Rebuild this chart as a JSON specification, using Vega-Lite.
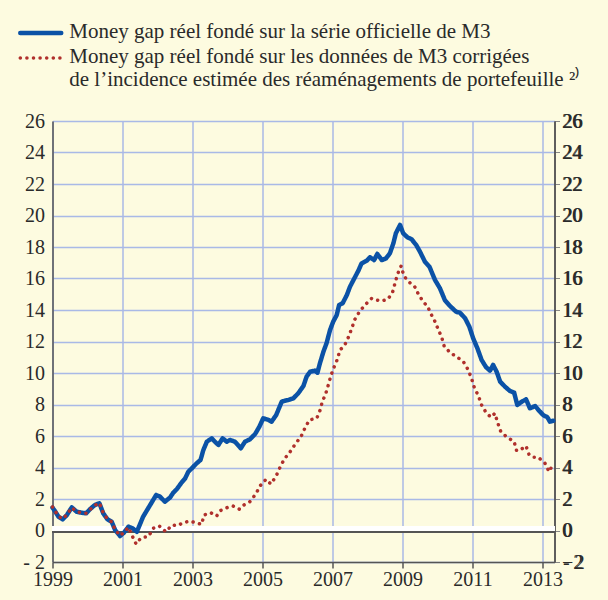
{
  "$schema": "https://vega.github.io/schema/vega-lite/v6.json",
  "autosize": {"type": "none"},
  "padding": {"left": 52.5, "top": 121, "right": 53.5, "bottom": 38},
  "width": 502,
  "height": 441,
  "background": "#fdfbe0",
  "config": {
    "font": "Liberation Serif",
    "view": {"stroke": null},
    "axis": {"labelFont": "Liberation Serif", "labelFontSize": 20, "labelColor": "#2a2a2a", "title": null, "domainColor": "#555", "domainWidth": 1.5, "gridColor": "#a9b9e6", "gridWidth": 1.5},
    "legend": {"labelFont": "Liberation Serif", "labelFontSize": 21, "labelColor": "#2a2a2a"}
  },
  "data": {"values": [
    {"t":1999.00,"v":1.45,"s":"officielle"},{"t":1999.08,"v":1.20,"s":"officielle"},{"t":1999.17,"v":0.88,"s":"officielle"},{"t":1999.29,"v":0.71,"s":"officielle"},{"t":1999.41,"v":0.98,"s":"officielle"},{"t":1999.55,"v":1.47,"s":"officielle"},{"t":1999.69,"v":1.19,"s":"officielle"},{"t":1999.83,"v":1.13,"s":"officielle"},{"t":1999.96,"v":1.09,"s":"officielle"},{"t":2000.07,"v":1.35,"s":"officielle"},{"t":2000.21,"v":1.62,"s":"officielle"},{"t":2000.34,"v":1.73,"s":"officielle"},{"t":2000.45,"v":1.09,"s":"officielle"},{"t":2000.57,"v":0.71,"s":"officielle"},{"t":2000.69,"v":0.56,"s":"officielle"},{"t":2000.79,"v":0.03,"s":"officielle"},{"t":2000.93,"v":-0.35,"s":"officielle"},{"t":2001.04,"v":-0.14,"s":"officielle"},{"t":2001.17,"v":0.24,"s":"officielle"},{"t":2001.29,"v":0.14,"s":"officielle"},{"t":2001.41,"v":-0.08,"s":"officielle"},{"t":2001.59,"v":0.88,"s":"officielle"},{"t":2001.79,"v":1.62,"s":"officielle"},{"t":2001.96,"v":2.25,"s":"officielle"},{"t":2002.07,"v":2.15,"s":"officielle"},{"t":2002.21,"v":1.83,"s":"officielle"},{"t":2002.36,"v":2.10,"s":"officielle"},{"t":2002.45,"v":2.40,"s":"officielle"},{"t":2002.55,"v":2.62,"s":"officielle"},{"t":2002.69,"v":3.05,"s":"officielle"},{"t":2002.79,"v":3.31,"s":"officielle"},{"t":2002.88,"v":3.73,"s":"officielle"},{"t":2002.98,"v":3.95,"s":"officielle"},{"t":2003.12,"v":4.27,"s":"officielle"},{"t":2003.23,"v":4.48,"s":"officielle"},{"t":2003.31,"v":5.11,"s":"officielle"},{"t":2003.41,"v":5.64,"s":"officielle"},{"t":2003.55,"v":5.85,"s":"officielle"},{"t":2003.64,"v":5.64,"s":"officielle"},{"t":2003.74,"v":5.43,"s":"officielle"},{"t":2003.86,"v":5.85,"s":"officielle"},{"t":2003.98,"v":5.64,"s":"officielle"},{"t":2004.07,"v":5.75,"s":"officielle"},{"t":2004.21,"v":5.64,"s":"officielle"},{"t":2004.38,"v":5.22,"s":"officielle"},{"t":2004.50,"v":5.64,"s":"officielle"},{"t":2004.64,"v":5.79,"s":"officielle"},{"t":2004.79,"v":6.13,"s":"officielle"},{"t":2004.91,"v":6.59,"s":"officielle"},{"t":2005.02,"v":7.12,"s":"officielle"},{"t":2005.17,"v":7.02,"s":"officielle"},{"t":2005.26,"v":6.91,"s":"officielle"},{"t":2005.39,"v":7.33,"s":"officielle"},{"t":2005.55,"v":8.18,"s":"officielle"},{"t":2005.74,"v":8.29,"s":"officielle"},{"t":2005.88,"v":8.39,"s":"officielle"},{"t":2006.02,"v":8.71,"s":"officielle"},{"t":2006.17,"v":9.18,"s":"officielle"},{"t":2006.26,"v":9.77,"s":"officielle"},{"t":2006.36,"v":10.08,"s":"officielle"},{"t":2006.50,"v":10.15,"s":"officielle"},{"t":2006.57,"v":10.02,"s":"officielle"},{"t":2006.64,"v":10.61,"s":"officielle"},{"t":2006.74,"v":11.35,"s":"officielle"},{"t":2006.83,"v":11.89,"s":"officielle"},{"t":2006.93,"v":12.73,"s":"officielle"},{"t":2007.02,"v":13.26,"s":"officielle"},{"t":2007.12,"v":13.68,"s":"officielle"},{"t":2007.19,"v":14.32,"s":"officielle"},{"t":2007.29,"v":14.43,"s":"officielle"},{"t":2007.41,"v":14.95,"s":"officielle"},{"t":2007.50,"v":15.48,"s":"officielle"},{"t":2007.61,"v":15.95,"s":"officielle"},{"t":2007.74,"v":16.50,"s":"officielle"},{"t":2007.83,"v":16.96,"s":"officielle"},{"t":2007.98,"v":17.13,"s":"officielle"},{"t":2008.07,"v":17.35,"s":"officielle"},{"t":2008.19,"v":17.17,"s":"officielle"},{"t":2008.28,"v":17.56,"s":"officielle"},{"t":2008.41,"v":17.17,"s":"officielle"},{"t":2008.53,"v":17.28,"s":"officielle"},{"t":2008.64,"v":17.60,"s":"officielle"},{"t":2008.74,"v":18.24,"s":"officielle"},{"t":2008.81,"v":18.87,"s":"officielle"},{"t":2008.93,"v":19.40,"s":"officielle"},{"t":2009.02,"v":18.87,"s":"officielle"},{"t":2009.14,"v":18.62,"s":"officielle"},{"t":2009.26,"v":18.49,"s":"officielle"},{"t":2009.39,"v":18.13,"s":"officielle"},{"t":2009.50,"v":17.70,"s":"officielle"},{"t":2009.64,"v":17.07,"s":"officielle"},{"t":2009.77,"v":16.75,"s":"officielle"},{"t":2009.93,"v":15.90,"s":"officielle"},{"t":2010.07,"v":15.38,"s":"officielle"},{"t":2010.21,"v":14.63,"s":"officielle"},{"t":2010.36,"v":14.25,"s":"officielle"},{"t":2010.53,"v":13.89,"s":"officielle"},{"t":2010.64,"v":13.83,"s":"officielle"},{"t":2010.79,"v":13.47,"s":"officielle"},{"t":2010.91,"v":12.94,"s":"officielle"},{"t":2011.02,"v":12.20,"s":"officielle"},{"t":2011.14,"v":11.57,"s":"officielle"},{"t":2011.26,"v":10.83,"s":"officielle"},{"t":2011.39,"v":10.36,"s":"officielle"},{"t":2011.50,"v":10.15,"s":"officielle"},{"t":2011.59,"v":10.51,"s":"officielle"},{"t":2011.69,"v":10.08,"s":"officielle"},{"t":2011.79,"v":9.45,"s":"officielle"},{"t":2011.93,"v":9.13,"s":"officielle"},{"t":2012.07,"v":8.86,"s":"officielle"},{"t":2012.19,"v":8.75,"s":"officielle"},{"t":2012.28,"v":7.97,"s":"officielle"},{"t":2012.41,"v":8.18,"s":"officielle"},{"t":2012.53,"v":8.33,"s":"officielle"},{"t":2012.64,"v":7.76,"s":"officielle"},{"t":2012.79,"v":7.90,"s":"officielle"},{"t":2012.91,"v":7.59,"s":"officielle"},{"t":2013.02,"v":7.33,"s":"officielle"},{"t":2013.14,"v":7.19,"s":"officielle"},{"t":2013.21,"v":6.91,"s":"officielle"},{"t":2013.31,"v":6.97,"s":"officielle"},

    {"t":1999.00,"v":1.50,"s":"corrigée"},{"t":1999.08,"v":1.22,"s":"corrigée"},{"t":1999.17,"v":0.90,"s":"corrigée"},{"t":1999.29,"v":0.74,"s":"corrigée"},{"t":1999.41,"v":1.00,"s":"corrigée"},{"t":1999.55,"v":1.45,"s":"corrigée"},{"t":1999.69,"v":1.20,"s":"corrigée"},{"t":1999.83,"v":1.12,"s":"corrigée"},{"t":1999.96,"v":1.10,"s":"corrigée"},{"t":2000.07,"v":1.33,"s":"corrigée"},{"t":2000.21,"v":1.60,"s":"corrigée"},{"t":2000.34,"v":1.75,"s":"corrigée"},{"t":2000.45,"v":1.12,"s":"corrigée"},{"t":2000.57,"v":0.72,"s":"corrigée"},{"t":2000.69,"v":0.55,"s":"corrigée"},{"t":2000.79,"v":0.05,"s":"corrigée"},{"t":2000.93,"v":-0.33,"s":"corrigée"},{"t":2001.04,"v":-0.12,"s":"corrigée"},{"t":2001.17,"v":0.20,"s":"corrigée"},{"t":2001.28,"v":-0.35,"s":"corrigée"},{"t":2001.39,"v":-0.86,"s":"corrigée"},{"t":2001.50,"v":-0.55,"s":"corrigée"},{"t":2001.58,"v":-0.43,"s":"corrigée"},{"t":2001.74,"v":-0.39,"s":"corrigée"},{"t":2001.88,"v":0.14,"s":"corrigée"},{"t":2002.05,"v":0.29,"s":"corrigée"},{"t":2002.24,"v":-0.08,"s":"corrigée"},{"t":2002.41,"v":0.35,"s":"corrigée"},{"t":2002.57,"v":0.31,"s":"corrigée"},{"t":2002.74,"v":0.50,"s":"corrigée"},{"t":2002.93,"v":0.60,"s":"corrigée"},{"t":2003.14,"v":0.46,"s":"corrigée"},{"t":2003.26,"v":0.39,"s":"corrigée"},{"t":2003.33,"v":0.98,"s":"corrigée"},{"t":2003.52,"v":1.13,"s":"corrigée"},{"t":2003.69,"v":0.92,"s":"corrigée"},{"t":2003.79,"v":1.26,"s":"corrigée"},{"t":2003.99,"v":1.45,"s":"corrigée"},{"t":2004.15,"v":1.56,"s":"corrigée"},{"t":2004.34,"v":1.35,"s":"corrigée"},{"t":2004.47,"v":1.62,"s":"corrigée"},{"t":2004.64,"v":1.83,"s":"corrigée"},{"t":2004.81,"v":2.32,"s":"corrigée"},{"t":2004.93,"v":2.83,"s":"corrigée"},{"t":2005.10,"v":3.25,"s":"corrigée"},{"t":2005.24,"v":2.95,"s":"corrigée"},{"t":2005.39,"v":3.46,"s":"corrigée"},{"t":2005.50,"v":4.01,"s":"corrigée"},{"t":2005.62,"v":4.52,"s":"corrigée"},{"t":2005.79,"v":5.00,"s":"corrigée"},{"t":2005.95,"v":5.53,"s":"corrigée"},{"t":2006.10,"v":5.96,"s":"corrigée"},{"t":2006.21,"v":6.49,"s":"corrigée"},{"t":2006.34,"v":7.02,"s":"corrigée"},{"t":2006.55,"v":7.12,"s":"corrigée"},{"t":2006.64,"v":7.61,"s":"corrigée"},{"t":2006.71,"v":8.18,"s":"corrigée"},{"t":2006.81,"v":8.71,"s":"corrigée"},{"t":2006.88,"v":9.24,"s":"corrigée"},{"t":2006.96,"v":9.87,"s":"corrigée"},{"t":2007.05,"v":10.40,"s":"corrigée"},{"t":2007.15,"v":10.93,"s":"corrigée"},{"t":2007.21,"v":11.46,"s":"corrigée"},{"t":2007.34,"v":11.73,"s":"corrigée"},{"t":2007.46,"v":12.30,"s":"corrigée"},{"t":2007.55,"v":12.84,"s":"corrigée"},{"t":2007.64,"v":13.41,"s":"corrigée"},{"t":2007.77,"v":13.89,"s":"corrigée"},{"t":2007.93,"v":14.32,"s":"corrigée"},{"t":2008.12,"v":14.74,"s":"corrigée"},{"t":2008.26,"v":14.63,"s":"corrigée"},{"t":2008.41,"v":14.57,"s":"corrigée"},{"t":2008.59,"v":14.70,"s":"corrigée"},{"t":2008.72,"v":15.16,"s":"corrigée"},{"t":2008.79,"v":15.73,"s":"corrigée"},{"t":2008.86,"v":16.29,"s":"corrigée"},{"t":2008.96,"v":16.79,"s":"corrigée"},{"t":2009.04,"v":16.16,"s":"corrigée"},{"t":2009.17,"v":15.80,"s":"corrigée"},{"t":2009.34,"v":15.52,"s":"corrigée"},{"t":2009.45,"v":15.02,"s":"corrigée"},{"t":2009.59,"v":14.53,"s":"corrigée"},{"t":2009.72,"v":14.21,"s":"corrigée"},{"t":2009.83,"v":13.68,"s":"corrigée"},{"t":2009.93,"v":13.26,"s":"corrigée"},{"t":2010.02,"v":12.77,"s":"corrigée"},{"t":2010.12,"v":12.27,"s":"corrigée"},{"t":2010.19,"v":11.71,"s":"corrigée"},{"t":2010.36,"v":11.29,"s":"corrigée"},{"t":2010.57,"v":11.00,"s":"corrigée"},{"t":2010.74,"v":10.72,"s":"corrigée"},{"t":2010.88,"v":10.19,"s":"corrigée"},{"t":2010.98,"v":9.60,"s":"corrigée"},{"t":2011.05,"v":9.09,"s":"corrigée"},{"t":2011.17,"v":8.54,"s":"corrigée"},{"t":2011.26,"v":7.97,"s":"corrigée"},{"t":2011.39,"v":7.48,"s":"corrigée"},{"t":2011.53,"v":7.19,"s":"corrigée"},{"t":2011.64,"v":7.44,"s":"corrigée"},{"t":2011.72,"v":6.84,"s":"corrigée"},{"t":2011.81,"v":6.27,"s":"corrigée"},{"t":2011.99,"v":5.92,"s":"corrigée"},{"t":2012.19,"v":5.64,"s":"corrigée"},{"t":2012.26,"v":5.07,"s":"corrigée"},{"t":2012.36,"v":5.11,"s":"corrigée"},{"t":2012.53,"v":5.37,"s":"corrigée"},{"t":2012.62,"v":4.79,"s":"corrigée"},{"t":2012.74,"v":4.65,"s":"corrigée"},{"t":2012.88,"v":4.65,"s":"corrigée"},{"t":2013.07,"v":4.27,"s":"corrigée"},{"t":2013.19,"v":3.73,"s":"corrigée"},{"t":2013.31,"v":4.27,"s":"corrigée"}
  ]},
  "encoding": {
    "x": {"field": "t", "type": "quantitative", "scale": {"domain": [1999, 2013.343], "nice": false, "zero": false},
      "axis": {"orient": "bottom", "values": [1999, 2001, 2003, 2005, 2007, 2009, 2011, 2013], "format": "d", "grid": true, "tickSize": 6, "tickColor": "#555", "tickWidth": 1.5, "labelPadding": 1, "labelFlush": false, "labelFont": "Liberation Serif", "labelFontSize": 20}}
  },
  "layer": [
    {
      "mark": {"type": "rule", "color": "#ffffff", "strokeWidth": 5, "yOffset": -1.5},
      "encoding": {"x": {"datum": 1999}, "x2": {"datum": 2013.343}, "y": {"datum": 0, "type": "quantitative", "scale": {"domain": [-2, 26], "nice": false, "zero": false},
        "axis": {"orient": "left", "values": [-2, 0, 2, 4, 6, 8, 10, 12, 14, 16, 18, 20, 22, 24, 26], "grid": true, "ticks": false, "labelPadding": 8, "labelFont": "Liberation Serif", "labelFontSize": 20, "labelExpr": "datum.value < 0 ? '- ' + abs(datum.value) : datum.label"}}}
    },
    {
      "mark": {"type": "rule", "color": "#555555", "strokeWidth": 1.5, "yOffset": 1.5},
      "encoding": {"x": {"datum": 1999}, "x2": {"datum": 2013.343}, "y": {"datum": 0, "type": "quantitative"}}
    },
    {
      "mark": {"type": "line", "strokeCap": "round", "strokeJoin": "round"},
      "encoding": {
        "y": {"field": "v", "type": "quantitative",
          "axis": {"orient": "right", "values": [-2, 0, 2, 4, 6, 8, 10, 12, 14, 16, 18, 20, 22, 24, 26], "grid": false, "ticks": false, "labelPadding": 8, "labelFont": "Liberation Serif", "labelFontSize": 20, "labelExpr": "datum.value < 0 ? '- ' + abs(datum.value) : datum.label"}},
        "color": {"field": "s", "type": "nominal", "scale": {"domain": ["officielle", "corrigée"], "range": ["#0b52a6", "#b0302c"]},
          "legend": {"title": null, "orient": "none", "legendX": -24.25, "legendY": -100.5, "symbolType": "M-2,0H2", "symbolSize": 420, "labelLimit": 700, "rowPadding": 2.5, "labelOffset": 16, "labelBaseline": "top", "labelFont": "Liberation Serif", "labelFontSize": 21,
            "labelExpr": "datum.value == 'officielle' ? 'Money gap réel fondé sur la série officielle de M3' : ['Money gap réel fondé sur les données de M3 corrigées', 'de l’incidence estimée des réaménagements de portefeuille ²⁾']",
            "encode": {"symbols": {"update": {"strokeCap": {"value": "round"}, "fill": {"value": "transparent"}}}, "labels": {"update": {"lineHeight": {"value": 23.5}, "dy": {"value": -12.5}}}}}},
        "strokeDash": {"field": "s", "type": "nominal", "scale": {"domain": ["officielle", "corrigée"], "range": [[1, 0], [0.1, 6.5]]}},
        "strokeWidth": {"field": "s", "type": "nominal", "scale": {"domain": ["officielle", "corrigée"], "range": [4.5, 3.5]}}
      }
    }
  ],
  "resolve": {"axis": {"y": "independent"}}
}
